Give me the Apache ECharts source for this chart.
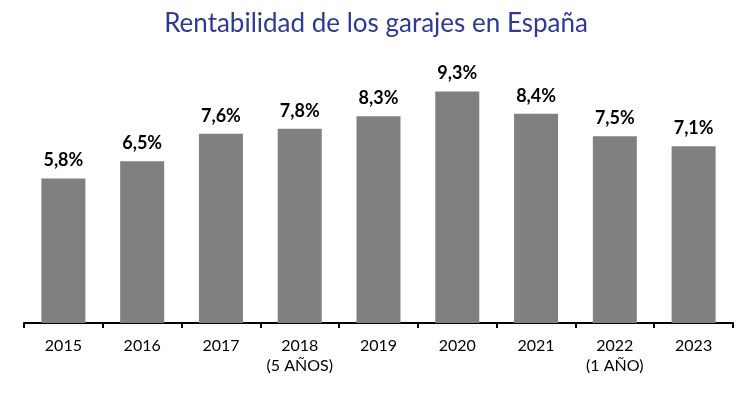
<!DOCTYPE html>
<html>
<head>
<meta charset="utf-8">
<script src="https://cdn.jsdelivr.net/npm/echarts@6/dist/echarts.min.js"></script>
<style>
  html, body { margin: 0; padding: 0; background: #fff; }
  #chart { width: 752px; height: 397px; }
</style>
</head>
<body>
<div id="chart"></div>
<script>
var years = ['2015', '2016', '2017', '2018\n(5 AÑOS)', '2019', '2020', '2021', '2022\n(1 AÑO)', '2023']
var rentabilidad = [5.8, 6.5, 7.6, 7.8, 8.3, 9.3, 8.4, 7.5, 7.1]

var chart = echarts.init(document.getElementById('chart'))
chart.setOption({
  backgroundColor: '#fff',
  animation: false,
  title: {
    text: 'Rentabilidad de los garajes en España',
    left: 'center',
    top: 6,
    textStyle: {
      fontFamily: 'Lato',
      fontWeight: 'normal',
      fontSize: 26,
      color: '#2E3B93'
    }
  },
  grid: {
    left: 24,
    right: 19,
    top: 74,
    bottom: 74
  },
  xAxis: {
    type: 'category',
    data: years,
    axisLine: { lineStyle: { color: '#000', width: 2 } },
    axisTick: { show: true, interval: 0, length: 5, lineStyle: { color: '#000', width: 2 } },
    axisLabel: {
      interval: 0,
      color: '#000',
      fontFamily: 'Lato',
      fontSize: 16,
      lineHeight: 20,
      margin: 13
    }
  },
  yAxis: {
    type: 'value',
    min: 0,
    max: 10,
    show: false
  },
  series: [
    {
      type: 'bar',
      data: rentabilidad,
      barWidth: 44,
      itemStyle: { color: '#808080' },
      label: {
        show: true,
        position: 'top',
        distance: 9,
        color: '#000',
        fontFamily: 'Lato',
        fontWeight: 'bold',
        fontSize: 18,
        formatter: function(p) {
          return p.value.toFixed(1).replace('.', ',') + '%'
        }
      }
    }
  ]
})
</script>
</body>
</html>
